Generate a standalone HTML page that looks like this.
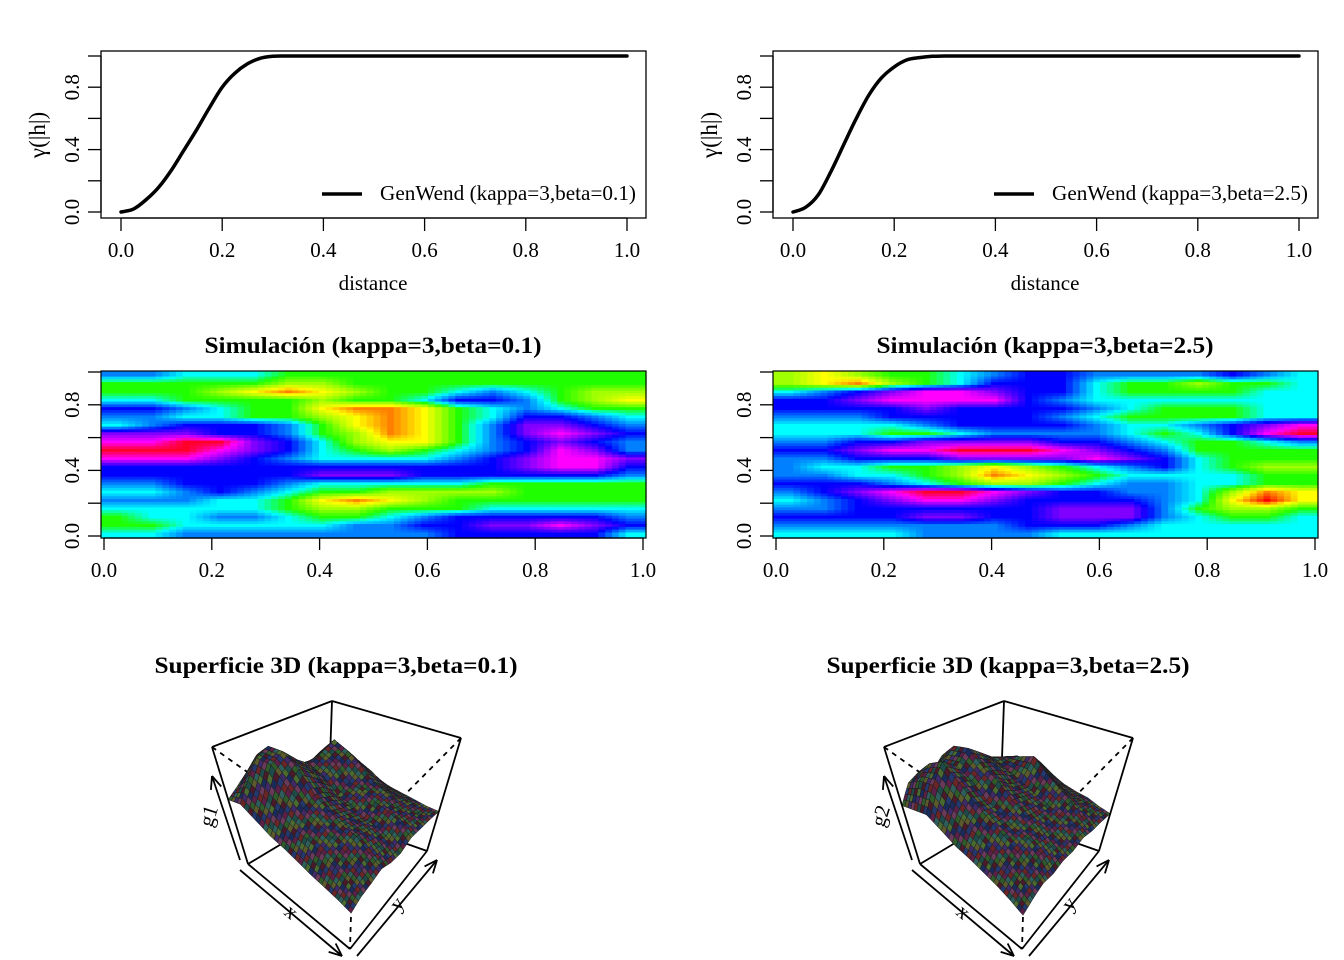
<!DOCTYPE html>
<html><head><meta charset="utf-8"><style>
html,body{margin:0;padding:0;background:#fff}
svg{display:block;font-family:"Liberation Serif",serif}
</style></head><body>
<svg id="c" width="1344" height="960" viewBox="0 0 1344 960" xmlns="http://www.w3.org/2000/svg"></svg>
<script>
// ---- data ----
const distances=[0,0.025,0.05,0.075,0.1,0.125,0.15,0.175,0.2,0.225,0.25,0.275,0.3,0.325,0.35,1.0];
const gammaBeta01=[0,0.02,0.08,0.16,0.27,0.40,0.53,0.67,0.80,0.89,0.95,0.985,0.998,1,1,1];
const gammaBeta25=[0,0.03,0.11,0.26,0.43,0.60,0.75,0.86,0.93,0.975,0.99,0.998,1,1,1,1];
const xTicks=[0,0.2,0.4,0.6,0.8,1.0];
const xTickLabels=["0.0","0.2","0.4","0.6","0.8","1.0"];
const yTicks=[0,0.2,0.4,0.6,0.8,1.0];
const yTickLabels=["0.0","","0.4","","0.8",""];
const heatLeft=[
[4,4,5,5,5,6,6,6,6,6,6,6,6,6,6,6],
[6,6,6,6,6,7,7,6,6,6,6,6,6,6,6,6],
[6,6,6,7,8,9,8,7,6,6,5,4,5,6,7,7],
[5,5,6,6,6,6,7,6,6,5,3,3,4,6,7,8],
[3,3,4,5,6,6,8,9,9,8,6,5,4,5,6,6],
[4,4,5,5,6,6,7,8,9,8,6,5,3,3,4,5],
[5,4,3,3,3,4,6,8,9,8,6,4,2,2,3,4],
[2,2,2,3,3,4,6,7,9,8,6,4,2,1,2,3],
[1,1,0,0,2,3,5,7,8,8,6,4,3,2,3,4],
[0,0,0,1,2,3,5,6,7,6,5,4,3,1,2,4],
[1,1,1,2,3,4,5,5,5,5,4,3,2,1,1,2],
[3,3,3,3,3,3,3,3,3,3,3,3,2,1,1,3],
[3,3,3,3,3,3,2,2,2,3,3,3,3,3,3,4],
[4,4,3,3,3,4,5,5,5,5,5,6,6,6,6,6],
[5,5,4,3,4,5,6,6,7,7,7,7,6,6,6,6],
[4,4,4,5,5,6,8,9,8,7,6,6,6,6,6,6],
[5,5,5,5,5,6,7,7,6,6,6,5,5,5,5,5],
[6,5,5,4,4,5,6,6,5,4,3,3,3,3,3,4],
[6,6,5,5,5,5,5,4,4,3,3,2,2,1,2,3],
[5,5,4,4,4,4,4,4,4,4,3,3,3,3,3,5]];
const heatRight=[
[7,8,7,6,6,5,4,3,3,4,4,4,4,3,4,5],
[7,8,9,7,6,5,3,3,3,5,6,6,7,6,6,5],
[5,4,3,2,1,1,2,3,3,5,6,6,6,6,5,5],
[3,3,2,1,1,1,1,3,4,5,5,5,5,5,5,5],
[3,3,3,3,2,3,3,3,3,4,5,6,6,6,5,5],
[4,4,4,3,3,3,3,3,4,5,6,6,6,6,5,5],
[5,5,5,5,4,3,3,3,3,4,5,5,4,3,2,1],
[5,5,5,6,6,5,4,4,4,4,5,6,5,3,1,0],
[4,4,3,3,2,2,2,2,3,3,4,5,6,6,5,4],
[3,3,2,1,1,0,0,0,1,2,3,4,6,6,6,6],
[4,4,3,3,3,2,2,2,2,1,2,3,5,6,6,6],
[4,5,5,6,6,7,8,7,6,5,4,3,5,6,7,7],
[4,4,5,5,6,7,9,8,7,6,5,5,5,5,6,6],
[3,3,3,4,5,6,7,7,6,5,4,4,5,5,6,6],
[4,3,2,1,0,0,1,2,3,3,4,4,5,7,9,8],
[5,4,3,2,1,1,2,3,3,3,3,4,5,8,10,8],
[4,4,3,3,3,3,3,3,2,2,2,4,6,7,7,6],
[3,3,3,3,2,2,3,3,2,2,2,4,5,6,6,5],
[4,4,4,4,4,4,4,3,3,3,4,5,5,5,5,5],
[5,5,5,5,4,4,4,4,5,5,5,5,5,5,5,5]];
const surfLeft=[
[0.55,0.62,0.70,0.80,0.70,0.60,0.55,0.50,0.45,0.40],
[0.60,0.75,0.90,0.95,0.80,0.70,0.65,0.70,0.60,0.50],
[0.55,0.70,0.92,0.98,0.85,0.75,0.80,0.85,0.70,0.55],
[0.50,0.65,0.80,0.90,0.80,0.70,0.75,0.80,0.65,0.50],
[0.48,0.60,0.70,0.75,0.70,0.60,0.65,0.72,0.60,0.45],
[0.45,0.58,0.65,0.68,0.62,0.58,0.62,0.62,0.52,0.42],
[0.42,0.55,0.60,0.62,0.58,0.52,0.58,0.58,0.48,0.40],
[0.40,0.50,0.55,0.60,0.55,0.50,0.55,0.50,0.45,0.38],
[0.38,0.45,0.50,0.52,0.48,0.45,0.50,0.45,0.40,0.36],
[0.35,0.40,0.42,0.45,0.40,0.38,0.42,0.40,0.38,0.35]];
const surfRight=[
[0.50,0.65,0.70,0.65,0.75,0.70,0.60,0.55,0.50,0.45],
[0.55,0.75,0.85,0.80,0.90,0.80,0.70,0.65,0.60,0.50],
[0.60,0.80,0.95,0.85,0.95,0.85,0.75,0.70,0.65,0.55],
[0.55,0.70,0.85,0.80,0.85,0.80,0.70,0.75,0.60,0.50],
[0.50,0.65,0.75,0.70,0.80,0.70,0.65,0.80,0.65,0.50],
[0.48,0.60,0.68,0.65,0.70,0.65,0.60,0.70,0.55,0.45],
[0.45,0.55,0.62,0.60,0.62,0.58,0.56,0.62,0.50,0.42],
[0.42,0.50,0.55,0.58,0.55,0.52,0.52,0.55,0.46,0.40],
[0.38,0.45,0.48,0.52,0.48,0.46,0.48,0.46,0.42,0.36],
[0.33,0.38,0.42,0.40,0.42,0.40,0.42,0.38,0.36,0.33]];
const surfColors=["#2f5a2a","#5a2048","#23386e","#5c5a2c","#2e5e5c","#6a2626","#3e2a66","#4a6a30","#1f4a4a","#6a3a5a","#1a2a5a","#4a1a2a"];

// ---- helpers ----
const NS="http://www.w3.org/2000/svg";
const svg=document.getElementById('c');
function mk(tag,attrs,parent){const e=document.createElementNS(NS,tag);for(const k in attrs)e.setAttribute(k,attrs[k]);(parent||svg).appendChild(e);return e;}
function txt(x,y,s,opts,parent){const e=mk('text',Object.assign({x:x,y:y,'text-anchor':'middle','font-size':21},opts||{}),parent);e.textContent=s;return e;}

const stops=[[255,0,40],[255,0,255],[128,0,255],[0,0,255],[0,128,255],[0,255,255],[32,255,0],[160,255,0],[255,255,0],[255,128,0],[255,0,0]];
function col(v){v=Math.max(0,Math.min(10,v));const i=Math.min(9,Math.floor(v)),f=v-i;const a=stops[i],b=stops[i+1];return 'rgb('+a.map((c,k)=>Math.round(c+(b[k]-c)*f)).join(',')+')';}

// ---- variogram panels ----
function variogram(ox,gam,legend,id){
  const g=mk('g',{});
  
  
  const X=d=>ox+121+d*506, Y=v=>212-v*156;
  mk('rect',{x:ox+101,y:51,width:545,height:167,fill:'none',stroke:'#000','stroke-width':1.3},g);
  xTicks.forEach((t,i)=>{mk('line',{x1:X(t),x2:X(t),y1:218,y2:231,stroke:'#000','stroke-width':1.3},g);txt(X(t),257,xTickLabels[i],{},g);});
  mk('line',{x1:X(0),x2:X(1),y1:218,y2:218,stroke:'#000','stroke-width':1.3},g);
  yTicks.forEach((t,i)=>{mk('line',{x1:ox+88,x2:ox+101,y1:Y(t),y2:Y(t),stroke:'#000','stroke-width':1.3},g);if(yTickLabels[i])txt(0,0,yTickLabels[i],{transform:`translate(${ox+79},${Y(t)}) rotate(-90)`},g);});
  mk('line',{x1:ox+101,x2:ox+101,y1:Y(0),y2:Y(1),stroke:'#000','stroke-width':1.3},g);
  const pts=distances.map((x,i)=>[X(x),Y(gam[i])]);
  let d='M'+pts[0][0]+','+pts[0][1];
  for(let i=0;i<pts.length-1;i++){const p0=pts[Math.max(0,i-1)],p1=pts[i],p2=pts[i+1],p3=pts[Math.min(pts.length-1,i+2)];
    let c1=[p1[0]+(p2[0]-p0[0])/6,p1[1]+(p2[1]-p0[1])/6],c2=[p2[0]-(p3[0]-p1[0])/6,p2[1]-(p3[1]-p1[1])/6];
    if(i>=pts.length-3){c1=[p1[0]+(p2[0]-p1[0])/3,p1[1]];c2=[p2[0]-(p2[0]-p1[0])/3,p2[1]];}
    d+=`C${c1[0].toFixed(1)},${c1[1].toFixed(1)} ${c2[0].toFixed(1)},${c2[1].toFixed(1)} ${p2[0].toFixed(1)},${p2[1].toFixed(1)}`;}
  const p=mk('path',{d:d,fill:'none',stroke:'#000','stroke-width':3.5,'stroke-linejoin':'round','stroke-linecap':'round'},g);
  
  
  txt(ox+373,290,'distance',{},g);
  txt(0,0,'γ(|h|)',{transform:`translate(${ox+45},135) rotate(-90)`,'font-size':23},g);
  mk('line',{x1:ox+322,x2:ox+362,y1:194,y2:194,stroke:'#000','stroke-width':3.5},g);
  const lt=txt(ox+380,200,legend,{'text-anchor':'start',textLength:256,lengthAdjust:'spacingAndGlyphs'},g);
  
  
}
variogram(0,gammaBeta01,'GenWend (kappa=3,beta=0.1)','variogram-beta-0.1');
variogram(672,gammaBeta25,'GenWend (kappa=3,beta=2.5)','variogram-beta-2.5');

// ---- heatmaps ----
function heat(ox,data,title,id){
  const g=mk('g',{});
  
  
  const L=ox+101,T=371,W=545,H=167,rows=data.length,cols=data[0].length,sub=5,rsub=3;
  const cw=W/(cols*sub),rh=H/(rows*rsub);
  const val=(r,c)=>data[Math.max(0,Math.min(rows-1,r))][Math.max(0,Math.min(cols-1,c))];
  for(let rr=0;rr<rows*rsub;rr++){
    const rp=(rr+0.5)/rsub-0.5;const ri=Math.floor(rp),rf=rp-ri;
    for(let s=0;s<cols*sub;s++){
      const pos=(s+0.5)/sub-0.5;const i=Math.floor(pos);const f=pos-i;
      const a=val(ri,i)+(val(ri,i+1)-val(ri,i))*f, b=val(ri+1,i)+(val(ri+1,i+1)-val(ri+1,i))*f;
      const v=a+(b-a)*rf;
      mk('rect',{x:(L+s*cw).toFixed(2),y:(T+rr*rh).toFixed(2),width:(cw+0.6).toFixed(2),height:(rh+0.6).toFixed(2),fill:col(v)},g);
    }
  }
  mk('rect',{x:L,y:T,width:W,height:H,fill:'none',stroke:'#000','stroke-width':1.2},g);
  const X=t=>ox+104+t*539, Y=t=>536-t*164;
  xTicks.forEach((t,i)=>{mk('line',{x1:X(t),x2:X(t),y1:538,y2:550,stroke:'#000','stroke-width':1.3},g);txt(X(t),577,xTickLabels[i],{},g);});
  mk('line',{x1:X(0),x2:X(1),y1:538,y2:538,stroke:'#000','stroke-width':1.3},g);
  yTicks.forEach((t,i)=>{mk('line',{x1:ox+88,x2:ox+101,y1:Y(t),y2:Y(t),stroke:'#000','stroke-width':1.3},g);if(yTickLabels[i])txt(0,0,yTickLabels[i],{transform:`translate(${ox+79},${Y(t)}) rotate(-90)`},g);});
  const tt=txt(ox+373,353,title,{'font-weight':'bold','font-size':23,textLength:337,lengthAdjust:'spacingAndGlyphs'},g);
  
  
}
heat(0,heatLeft,'Simulación (kappa=3,beta=0.1)','heatmap-beta-0.1');
heat(672,heatRight,'Simulación (kappa=3,beta=2.5)','heatmap-beta-2.5');

// ---- 3D surfaces ----
function surf(ox,data,title,zlab,id){
  const g=mk('g',{});
  
  
  const tt=txt(ox+336,673,title,{'font-weight':'bold','font-size':23,textLength:363,lengthAdjust:'spacingAndGlyphs'},g);
  
  
  const T00=[212,747],T10=[353,847],T11=[461,738],T01=[332,701];
  const D00=[36,117],D10=[-3,102],D11=[-34,113],D01=[-4,115];
  const bl=(A,B,C,D,u,v)=>[0,1].map(k=>A[k]*(1-u)*(1-v)+B[k]*u*(1-v)+C[k]*u*v+D[k]*(1-u)*v);
  const P=(u,v,z)=>{const t=bl(T00,T10,T11,T01,u,v),d=bl(D00,D10,D11,D01,u,v);return [ox+t[0]+(1-z)*d[0],t[1]+(1-z)*d[1]];};
  const n=data.length,ln={stroke:'#000','stroke-width':1.8,fill:'none'},dl={stroke:'#000','stroke-width':1.8,'stroke-dasharray':'5,5'};
  const bot=(u,v)=>P(u,v,0), top=(u,v)=>P(u,v,1);
  const seg=(a,b,s)=>mk('line',Object.assign({x1:a[0],y1:a[1],x2:b[0],y2:b[1]},s),g);
  seg(top(0,0),top(1,0),dl);seg(top(1,1),top(1,0),dl);seg(top(1,0),bot(1,0),dl);
  seg(top(0,1),bot(0,1),ln);seg(bot(0,0),bot(0,1),ln);seg(bot(1,1),bot(0,1),ln);
  const quads=[];
  for(let i=0;i<n-1;i++)for(let j=0;j<n-1;j++)quads.push([i,j]);
  quads.sort((a,b)=>(a[0]-a[1])-(b[0]-b[1]));
  const sub=4;
  quads.forEach(([i,j])=>{
    for(let a=0;a<sub;a++)for(let b=0;b<sub;b++){
      const z=(ii,jj)=>{const fu=a/sub+ii/sub,fv=b/sub+jj/sub;return data[i][j]*(1-fu)*(1-fv)+data[i+1][j]*fu*(1-fv)+data[i+1][j+1]*fu*fv+data[i][j+1]*(1-fu)*fv;};
      const u0=(i+a/sub)/(n-1),u1=(i+(a+1)/sub)/(n-1),v0=(j+b/sub)/(n-1),v1=(j+(b+1)/sub)/(n-1);
      const pts=[P(u0,v0,z(0,0)),P(u1,v0,z(1,0)),P(u1,v1,z(1,1)),P(u0,v1,z(0,1))];
      mk('polygon',{points:pts.map(p=>p[0].toFixed(1)+','+p[1].toFixed(1)).join(' '),fill:surfColors[(i*5+a*3+j*7+b)%surfColors.length],stroke:'#1a1a1a','stroke-width':0.5},g);
    }
  });
  seg(top(0,0),top(0,1),ln);seg(top(0,1),top(1,1),ln);
  seg(top(0,0),bot(0,0),ln);seg(top(1,1),bot(1,1),ln);
  seg(bot(0,0),bot(1,0),ln);seg(bot(1,0),bot(1,1),ln);
  const arrow=(a,b)=>{seg(a,b,ln);const ang=Math.atan2(b[1]-a[1],b[0]-a[0]);[0.4,-0.4].forEach(s=>seg(b,[b[0]-14*Math.cos(ang+s),b[1]-14*Math.sin(ang+s)],ln));};
  arrow([ox+240,870],[ox+342,956]);
  arrow([ox+357,956],[ox+437,860]);
  arrow([ox+240,860],[ox+212,776]);
  txt(0,0,'x',{transform:`translate(${ox+287},917) rotate(40)`,'font-size':21},g);
  txt(0,0,'y',{transform:`translate(${ox+402},908) rotate(-50)`,'font-size':21},g);
  txt(0,0,zlab,{transform:`translate(${ox+215},818) rotate(-72)`,'font-size':21},g);
}
surf(0,surfLeft,'Superficie 3D (kappa=3,beta=0.1)','g1','surface-beta-0.1');
surf(672,surfRight,'Superficie 3D (kappa=3,beta=2.5)','g2','surface-beta-2.5');
</script>
</body></html>
